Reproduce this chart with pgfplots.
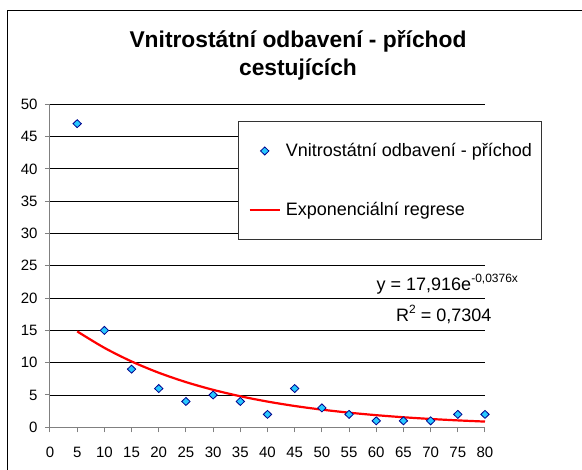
\documentclass[border=0pt]{standalone}
\usepackage{fontspec}
\setmainfont{Liberation Sans}
\usepackage{pgfplots}
\pgfplotsset{compat=1.18}
\definecolor{ptfill}{RGB}{40,200,255}
\definecolor{ptedge}{RGB}{0,0,140}
\definecolor{axgray}{RGB}{128,128,128}
\pgfplotsset{
  markleg/.style={legend image code/.code={\draw[##1] plot coordinates {(15pt,0pt)};}},
  lineleg/.style={legend image code/.code={\draw[##1] (0pt,0pt) -- (30pt,0pt);}},
}
\begin{document}
\begin{tikzpicture}[x=1pt,y=1pt]
\useasboundingbox (0,0) rectangle (582,-470);
\draw[line width=1pt] (7,-11) rectangle (600,-490);
\node[font=\bfseries\fontsize{22.8}{28}\selectfont, anchor=base] at (298,-48) {Vnitrostátní odbavení - příchod};
\node[font=\bfseries\fontsize{22.8}{28}\selectfont, anchor=base] at (298,-76) {cestujících};
\begin{axis}[
  at={(50pt,-427.3pt)}, anchor=south west,
  scale only axis, width=435pt, height=323pt,
  xmin=0, xmax=80, ymin=0, ymax=50,
  xtick={0,5,...,80}, ytick={0,5,...,50},
  axis x line*=bottom, axis y line*=left,
  axis line style={draw=axgray, line width=1pt},
  tick style={draw=axgray, line width=1pt},
  tick align=outside, major tick length=5pt,
  ymajorgrids, grid style={black, line width=0.8pt},
  tick label style={font=\fontsize{15}{17}\selectfont},
  xticklabel style={yshift=-11pt},
  yticklabel style={xshift=-4pt},
  /pgf/number format/assume math mode=true,
  clip=false,
  legend cell align=left,
  legend style={at={(axis cs:34.6,47.4)}, anchor=north west, draw=black!80, line width=1pt, fill=white,
    font=\fontsize{18}{21}\selectfont, inner xsep=10pt, inner ysep=22pt, row sep=44pt, column sep=5pt,
    nodes={inner sep=0pt}},
]
\addplot[only marks, mark=diamond*, mark size=4pt,
  mark options={fill=ptfill, draw=ptedge, line width=0.8pt, xscale=1.4}, markleg]
  coordinates {(5,47)(10,15)(15,9)(20,6)(25,4)(30,5)(35,4)(40,2)(45,6)(50,3)(55,2)(60,1)(65,1)(70,1)(75,2)(80,2)};
\addplot[red, line width=2.2pt, smooth, lineleg]
  coordinates {(5,14.845)(10,12.301)(15,10.193)(20,8.446)(25,6.998)(30,5.799)(35,4.805)(40,3.982)(45,3.299)(50,2.734)(55,2.265)(60,1.877)(65,1.555)(70,1.289)(75,1.068)(80,0.885)};
\legend{Vnitrostátní odbavení - příchod, Exponenciální regrese}
\node[anchor=base east, font=\fontsize{18}{21}\selectfont, inner sep=0pt] at (axis cs:86.1,21.25) {y = 17,916e\raisebox{8pt}{\fontsize{12}{12}\selectfont -0,0376x}};
\node[anchor=base east, font=\fontsize{18}{21}\selectfont, inner sep=0pt] at (axis cs:81.2,16.35) {R\raisebox{8pt}{\fontsize{12}{12}\selectfont 2} = 0,7304};
\end{axis}
\end{tikzpicture}
\end{document}
